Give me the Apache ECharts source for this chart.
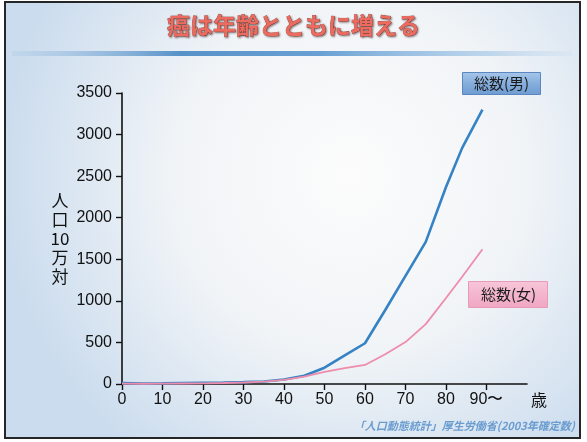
<!DOCTYPE html>
<html>
<head>
<meta charset="utf-8">
<script src="https://cdn.jsdelivr.net/npm/echarts@6/dist/echarts.min.js"></script>
<style>
  html, body { margin: 0; padding: 0; background: #ffffff; }
  #chart { width: 587px; height: 442px; }
</style>
</head>
<body>
<div id="chart"></div>
<script>
// Age (years) at each plotted point
const ages = [0, 5, 10, 15, 20, 25, 30, 35, 40, 45, 50, 55, 60, 65, 70, 75, 80, 84, 89];
// Cancer deaths per 100,000 population, males
const maleRates = [10, 5, 8, 12, 15, 18, 22, 30, 55, 100, 196, 343, 490, 890, 1300, 1710, 2370, 2840, 3300];
// Cancer deaths per 100,000 population, females
const femaleRates = [5, 3, 4, 6, 8, 12, 18, 28, 50, 88, 145, 190, 229, 358, 504, 720, 1035, 1290, 1620];
// Axis tick values
const xTicks = [0, 10, 20, 30, 40, 50, 60, 70, 80, 90];
const yTicks = [0, 500, 1000, 1500, 2000, 2500, 3000, 3500];

const chart = echarts.init(document.getElementById('chart'), null, { renderer: 'canvas' });

const numFont = '"Liberation Sans", Arial, sans-serif';
const jpFont = '"Noto Sans CJK JP", sans-serif';

const option = {
  backgroundColor: '#ffffff',
  animation: false,
  graphic: [
    // slide background
    {
      type: 'rect', z: -10, silent: true,
      shape: { x: 5, y: 2, width: 575, height: 436 },
      style: {
        fill: {
          type: 'radial', x: 0.6, y: 0.4, r: 0.8,
          colorStops: [
            { offset: 0, color: '#fcfcfc' },
            { offset: 0.5, color: '#f1f4f7' },
            { offset: 1, color: '#cbdcee' }
          ]
        },
        stroke: '#262626', lineWidth: 2
      }
    },
    // rule under the heading
    {
      type: 'rect', z: -5, silent: true,
      shape: { x: 12, y: 51, width: 560, height: 5 },
      style: {
        fill: {
          type: 'linear', x: 0, y: 0, x2: 1, y2: 0,
          colorStops: [
            { offset: 0, color: 'rgba(120,170,215,0.1)' },
            { offset: 0.3, color: 'rgba(70,135,195,0.9)' },
            { offset: 0.55, color: 'rgba(80,145,205,0.85)' },
            { offset: 0.85, color: 'rgba(140,185,225,0.5)' },
            { offset: 1, color: 'rgba(170,200,230,0.1)' }
          ]
        }
      }
    },
    // heading
    {
      type: 'text', z: 10, silent: true,
      left: 'center', top: 13,
      style: {
        text: '癌は年齢とともに増える',
        font: 'bold 23px ' + jpFont,
        fill: '#ec6a5e',
        stroke: '#8a3a32', lineWidth: 0.6,
        textShadowColor: 'rgba(60,30,30,0.55)', textShadowBlur: 2,
        textShadowOffsetX: 1, textShadowOffsetY: 1
      }
    },
    // male series label
    {
      type: 'group', z: 10, silent: true,
      left: 462, top: 72,
      children: [
        {
          type: 'rect',
          shape: { x: 0, y: 0, width: 78, height: 22 },
          style: {
            fill: {
              type: 'linear', x: 0, y: 0, x2: 0, y2: 1,
              colorStops: [
                { offset: 0, color: '#a7c7ea' },
                { offset: 0.5, color: '#86aedd' },
                { offset: 1, color: '#6d9bd2' }
              ]
            },
            stroke: '#5b86bf', lineWidth: 1
          }
        },
        {
          type: 'text',
          style: {
            text: '総数(男)', x: 39, y: 11, align: 'center', verticalAlign: 'middle',
            font: '15px ' + jpFont, fill: '#1a1a1a'
          }
        }
      ]
    },
    // female series label
    {
      type: 'group', z: 10, silent: true,
      left: 468, top: 281,
      children: [
        {
          type: 'rect',
          shape: { x: 0, y: 0, width: 79, height: 26 },
          style: {
            fill: {
              type: 'linear', x: 0, y: 0, x2: 0, y2: 1,
              colorStops: [
                { offset: 0, color: '#f8c6d8' },
                { offset: 1, color: '#f0a6c2' }
              ]
            },
            stroke: '#e79bb8', lineWidth: 1
          }
        },
        {
          type: 'text',
          style: {
            text: '総数(女)', x: 40, y: 13, align: 'center', verticalAlign: 'middle',
            font: '15px ' + jpFont, fill: '#1a1a1a'
          }
        }
      ]
    },
    // source note
    {
      type: 'text', z: 10, silent: true,
      right: 12, top: 420,
      style: {
        text: '「人口動態統計」厚生労働省(2003年確定数)',
        font: 'italic bold 11px ' + jpFont,
        fill: '#6a9ccf'
      }
    }
  ],
  grid: { left: 122, right: 60, top: 93, bottom: 58, containLabel: false },
  xAxis: {
    type: 'value',
    min: 0, max: 100, interval: 10,
    name: '歳',
    nameLocation: 'end',
    nameGap: 4,
    nameTextStyle: {
      fontSize: 16, fontFamily: jpFont,
      color: '#111', verticalAlign: 'top', padding: [8, 0, 0, 0]
    },
    axisLine: { show: true, onZero: false, lineStyle: { color: '#111', width: 1.6 } },
    axisTick: { show: true, inside: false, length: 6, customValues: xTicks, lineStyle: { color: '#111', width: 1.4 } },
    axisLabel: {
      customValues: xTicks,
      formatter: v => (v === 90 ? '90〜' : String(v)),
      color: '#111', fontSize: 16, fontFamily: numFont, margin: 8
    },
    splitLine: { show: false }
  },
  yAxis: {
    type: 'value',
    min: 0, max: 3500, interval: 500,
    name: '人\n口\n10\n万\n対',
    nameLocation: 'middle',
    nameRotate: 0,
    nameGap: 62,
    nameTextStyle: {
      fontSize: 17, fontFamily: jpFont, color: '#111',
      lineHeight: 19, align: 'center', verticalAlign: 'middle'
    },
    axisLine: { show: true, lineStyle: { color: '#111', width: 1.6 } },
    axisTick: { show: true, inside: false, length: 6, customValues: yTicks, lineStyle: { color: '#111', width: 1.4 } },
    axisLabel: {
      customValues: yTicks,
      formatter: v => String(v),
      color: '#111', fontSize: 16, fontFamily: numFont, margin: 10
    },
    splitLine: { show: false }
  },
  series: [
    {
      name: '総数(男)',
      type: 'line',
      data: ages.map((a, i) => [a, maleRates[i]]),
      showSymbol: false,
      lineStyle: { color: '#3582c4', width: 2.6 },
      itemStyle: { color: '#3582c4' },
      z: 3
    },
    {
      name: '総数(女)',
      type: 'line',
      data: ages.map((a, i) => [a, femaleRates[i]]),
      showSymbol: false,
      lineStyle: { color: '#ee8cab', width: 1.8 },
      itemStyle: { color: '#ee8cab' },
      z: 4
    }
  ]
};

chart.setOption(option);
</script>
</body>
</html>
